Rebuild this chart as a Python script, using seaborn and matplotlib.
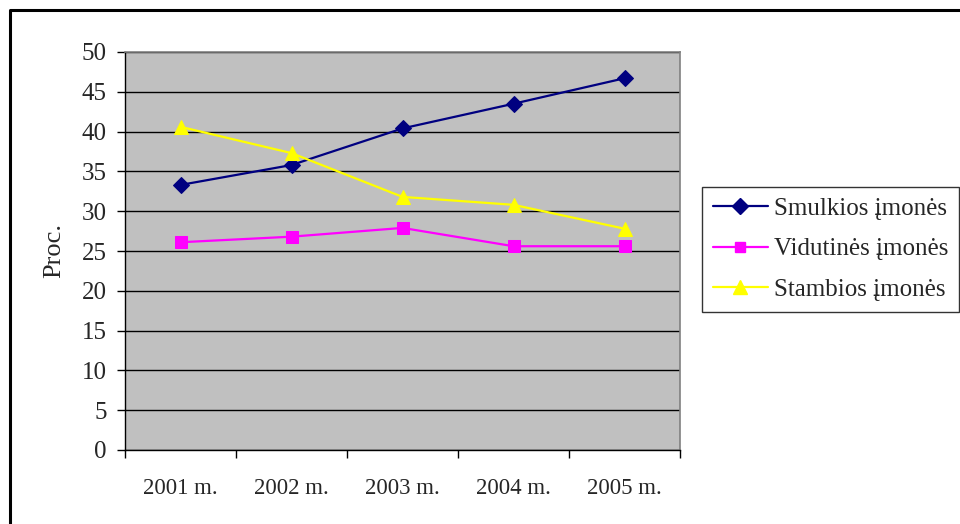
import matplotlib
matplotlib.use("Agg")
import matplotlib.pyplot as plt
import matplotlib.lines as mlines
import numpy as np
import pandas as pd
import seaborn as sns

# Data
years = ["2001 m.", "2002 m.", "2003 m.", "2004 m.", "2005 m."]
smulkios = [33.3, 35.8, 40.4, 43.5, 46.7]
vidutines = [26.1, 26.8, 27.9, 25.6, 25.6]
stambios = [40.6, 37.3, 31.8, 30.8, 27.8]
series_names = ["Smulkios įmonės", "Vidutinės įmonės", "Stambios įmonės"]
yticks = [0, 5, 10, 15, 20, 25, 30, 35, 40, 45, 50]

df = pd.DataFrame({
    "x": list(range(len(years))) * 3,
    "value": smulkios + vidutines + stambios,
    "series": [n for n in series_names for _ in years],
})

sns.set_theme(style="white")
plt.rcParams["font.family"] = ["Liberation Serif", "DejaVu Serif"]

colors = {"Smulkios įmonės": "#000080",
          "Vidutinės įmonės": "#FF00FF",
          "Stambios įmonės": "#FFFF00"}
markers = {"Smulkios įmonės": "D",
           "Vidutinės įmonės": "s",
           "Stambios įmonės": "^"}
msizes = {"Smulkios įmonės": 8.5, "Vidutinės įmonės": 8.5, "Stambios įmonės": 10.5}

fig = plt.figure(figsize=(9.6, 5.24), dpi=100)
ax = fig.add_axes([125 / 960, 1 - 450 / 524, 555 / 960, 398 / 524])
ax.set_facecolor("#C0C0C0")

for name in series_names:
    sub = df[df["series"] == name]
    sns.lineplot(data=sub, x="x", y="value", ax=ax, color=colors[name],
                 marker=markers[name], markersize=msizes[name],
                 markeredgecolor=colors[name], linewidth=1.6, legend=False)

ax.set_xlim(-0.5, len(years) - 0.5)
ax.set_ylim(0, 50)
ax.set_yticks(yticks)
ax.set_yticklabels([str(v) for v in yticks], fontsize=18)
ax.yaxis.grid(True, color="black", linewidth=1.0)
ax.set_axisbelow(True)

ax.set_xticks(range(len(years)))
ax.set_xticklabels(years, fontsize=16.5)
ax.set_xticks(np.arange(-0.5, len(years)), minor=True)
ax.tick_params(axis="x", which="major", length=0, pad=20)
ax.tick_params(axis="x", which="minor", length=6, width=1, color="black",
               direction="out", bottom=True)
ax.tick_params(axis="y", length=6, width=1, color="black", direction="out",
               left=True, pad=7)
ax.set_xlabel("")
ax.set_ylabel("Proc.", fontsize=19, labelpad=12)

for side in ["left", "bottom"]:
    ax.spines[side].set_color("black")
    ax.spines[side].set_linewidth(1.0)
for side in ["top", "right"]:
    ax.spines[side].set_color("#808080")
    ax.spines[side].set_linewidth(1.2)

handles = [mlines.Line2D([], [], color=colors[n], marker=markers[n],
                         markersize=msizes[n] * 0.9, linewidth=1.6,
                         markeredgecolor=colors[n])
           for n in series_names]
leg = fig.legend(handles, series_names, loc="upper left",
                 bbox_to_anchor=(702 / 960, 1 - 187 / 524),
                 fontsize=18, frameon=True, fancybox=False,
                 handlelength=2.2, handletextpad=0.25, labelspacing=0.72,
                 borderpad=0.42, borderaxespad=0)
leg.get_frame().set_edgecolor("black")
leg.get_frame().set_linewidth(1.0)

# Outer chart frame (top and left edges)
fig.add_artist(mlines.Line2D([9.5 / 960, 9.5 / 960, 1.0],
                             [0.0, 1 - 10 / 524, 1 - 10 / 524],
                             transform=fig.transFigure, color="black",
                             linewidth=2.2))

fig.savefig("out.png", dpi=100, facecolor="white")
